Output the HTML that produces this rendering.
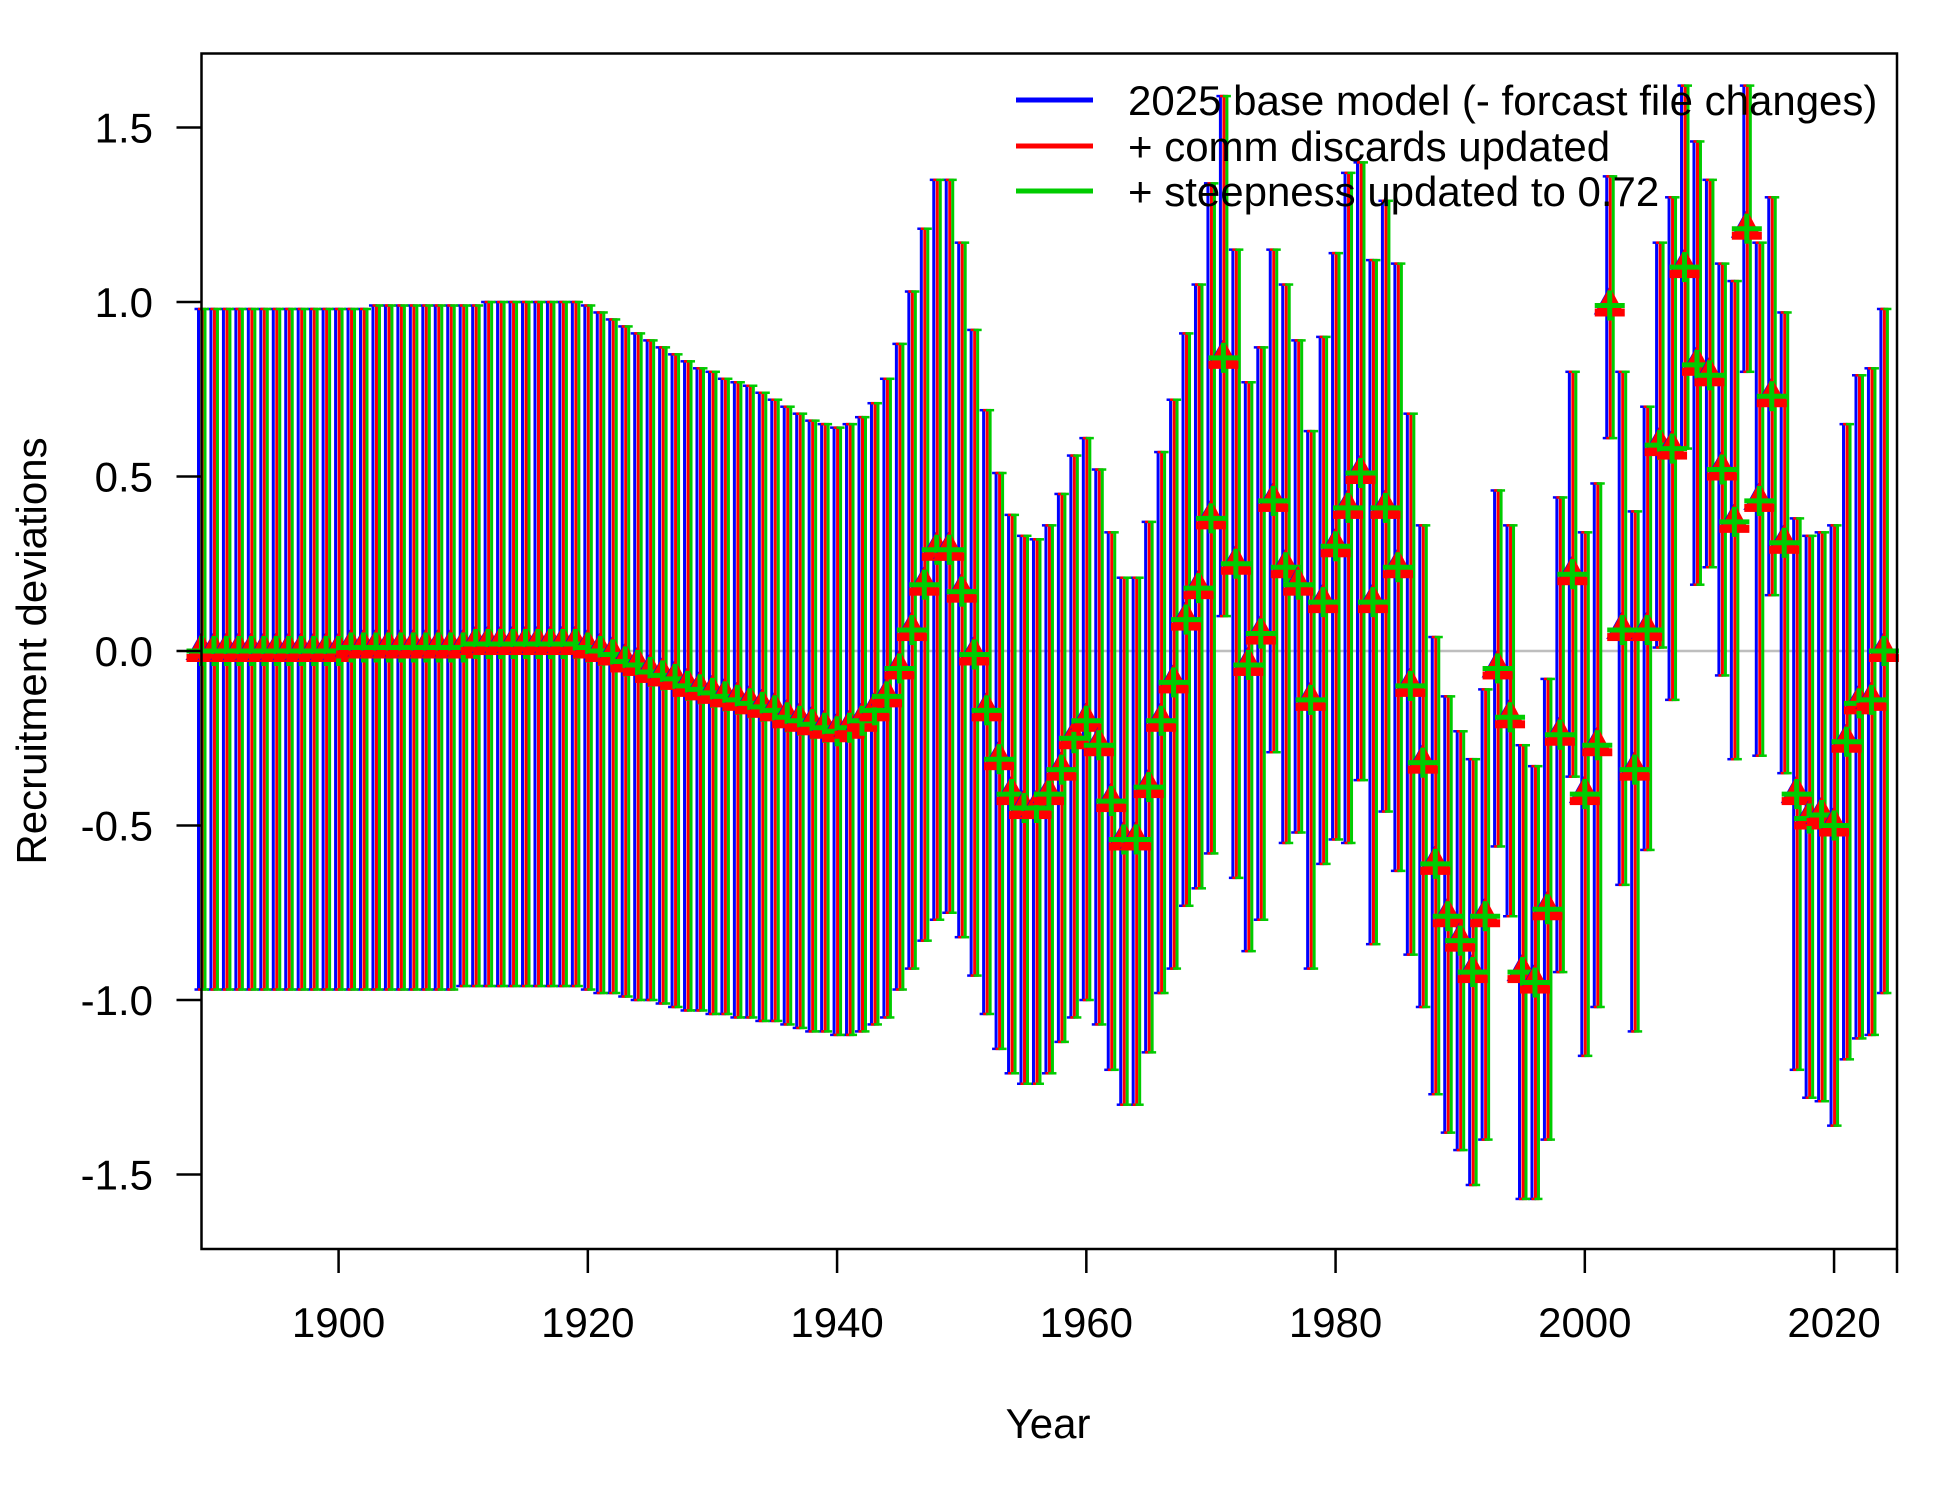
<!DOCTYPE html>
<html><head><meta charset="utf-8"><style>
html,body{margin:0;padding:0;background:#fff;}
svg{display:block;font-family:"Liberation Sans",Arial,sans-serif;}
</style></head><body>
<svg id="chart" width="1950" height="1500" viewBox="0 0 1950 1500" xmlns="http://www.w3.org/2000/svg">
<rect x="0" y="0" width="1950" height="1500" fill="#fff"/>
<g id="plot"></g>
<g id="axes"></g>
<g id="legend"></g>
</svg>
<script>
const firstYear = 1889;
const devs = [0,0,0,0,0,0,0,0,0,0,0,0,0.01,0.01,0.01,0.01,0.01,0.01,0.01,0.01,0.01,0.01,0.02,0.02,0.02,0.02,0.02,0.02,0.02,0.02,0.02,0.01,0,-0.01,-0.03,-0.04,-0.06,-0.07,-0.08,-0.1,-0.11,-0.12,-0.13,-0.14,-0.15,-0.16,-0.17,-0.19,-0.2,-0.21,-0.22,-0.23,-0.22,-0.2,-0.17,-0.13,
-0.05,0.06,0.19,0.29,0.29,0.17,-0.01,-0.17,-0.31,-0.41,-0.45,-0.45,-0.41,-0.34,-0.25,-0.2,-0.27,-0.43,-0.54,-0.54,-0.39,-0.2,-0.09,0.09,0.18,0.38,0.84,0.25,-0.04,0.05,0.43,0.24,0.19,-0.14,0.14,0.3,0.41,0.51,0.14,0.41,0.24,-0.1,-0.32,-0.61,-0.76,-0.83,-0.92,-0.76,-0.05,-0.19,-0.92,-0.95,-0.74,-0.24,0.22,-0.41,-0.27,0.99,0.06,-0.34,0.06,0.59,0.58,1.1,0.82,0.79,0.52,0.37,1.21,0.43,0.73,0.31,-0.41,-0.48,-0.47,-0.5,-0.26,-0.15,-0.14,0];
const upper = [0.98,0.98,0.98,0.98,0.98,0.98,0.98,0.98,0.98,0.98,0.98,0.98,0.98,0.98,0.99,0.99,0.99,0.99,0.99,0.99,0.99,0.99,0.99,1.0,1.0,1.0,1.0,1.0,1.0,1.0,1.0,0.99,0.97,0.95,0.93,0.91,0.89,0.87,0.85,0.83,0.81,0.8,0.78,0.77,0.76,0.74,0.72,0.7,0.68,0.66,0.65,0.64,0.65,0.67,0.71,0.78,
0.88,1.03,1.21,1.35,1.35,1.17,0.92,0.69,0.51,0.39,0.33,0.32,0.36,0.45,0.56,0.61,0.52,0.34,0.21,0.21,0.37,0.57,0.72,0.91,1.05,1.34,1.59,1.15,0.77,0.87,1.15,1.05,0.89,0.63,0.9,1.14,1.37,1.4,1.12,1.29,1.11,0.68,0.36,0.04,-0.13,-0.23,-0.31,-0.11,0.46,0.36,-0.27,-0.33,-0.08,0.44,0.8,0.34,0.48,1.36,0.8,0.4,0.7,1.17,1.3,1.62,1.46,1.35,1.11,1.06,1.62,1.17,1.3,0.97,0.38,0.33,0.34,0.36,0.65,0.79,0.81,0.98];
const lower = [-0.97,-0.97,-0.97,-0.97,-0.97,-0.97,-0.97,-0.97,-0.97,-0.97,-0.97,-0.97,-0.97,-0.97,-0.97,-0.97,-0.97,-0.97,-0.97,-0.97,-0.97,-0.96,-0.96,-0.96,-0.96,-0.96,-0.96,-0.96,-0.96,-0.96,-0.96,-0.97,-0.98,-0.98,-0.99,-1.0,-1.0,-1.01,-1.02,-1.03,-1.03,-1.04,-1.04,-1.05,-1.05,-1.06,-1.06,-1.07,-1.08,-1.09,-1.09,-1.1,-1.1,-1.09,-1.07,-1.05,
-0.97,-0.91,-0.83,-0.77,-0.75,-0.82,-0.93,-1.04,-1.14,-1.21,-1.24,-1.24,-1.21,-1.12,-1.05,-1.0,-1.07,-1.2,-1.3,-1.3,-1.15,-0.98,-0.91,-0.73,-0.68,-0.58,0.1,-0.65,-0.86,-0.77,-0.29,-0.55,-0.52,-0.91,-0.61,-0.54,-0.55,-0.37,-0.84,-0.46,-0.63,-0.87,-1.02,-1.27,-1.38,-1.43,-1.53,-1.4,-0.56,-0.76,-1.57,-1.57,-1.4,-0.92,-0.36,-1.16,-1.02,0.61,-0.67,-1.09,-0.57,0.01,-0.14,0.58,0.19,0.24,-0.07,-0.31,0.8,-0.3,0.16,-0.35,-1.2,-1.28,-1.29,-1.36,-1.17,-1.11,-1.1,-0.98];
const seriesNames = ["2025 base model (- forcast file changes)", "+ comm discards updated", "+ steepness updated to 0.72"];
const seriesColors = ["#0000ff", "#ff0000", "#00cc00"];
const xTicks = [1900, 1920, 1940, 1960, 1980, 2000, 2020];
const yTicks = [-1.5, -1.0, -0.5, 0.0, 0.5, 1.0, 1.5];
const yTickLabels = ["-1.5", "-1.0", "-0.5", "0.0", "0.5", "1.0", "1.5"];

const NS = "http://www.w3.org/2000/svg";
const L = 201.5, R = 1897, T = 53.5, B = 1249;
const xMin = 1889, xMax = 2025.05;
const yAt0 = 651, yPerUnit = 349;
function xs(v){ return L + (v - xMin) * (R - L) / (xMax - xMin); }
function ys(v){ return yAt0 - v * yPerUnit; }
function mk(tag, attrs, parent){ const e = document.createElementNS(NS, tag); for (const k in attrs) e.setAttribute(k, attrs[k]); parent.appendChild(e); return e; }

const plot = document.getElementById('plot');
const axes = document.getElementById('axes');
const legend = document.getElementById('legend');

const zl = mk('line', {x1:L, x2:R, y1:ys(0), y2:ys(0), stroke:'#bebebe', 'stroke-width':2.5}, plot);



const offs = [-3, 0.5, 3.5];
for (let s = 0; s < 3; s++) {
  const g = mk('g', {}, plot);
  
  
  for (let i = 0; i < devs.length; i++) {
    const x = xs(firstYear + i) + offs[s];
    const y1 = ys(upper[i]), y2 = ys(lower[i]);
    const ln = mk('line', {x1:x, x2:x, y1:y1, y2:y2, stroke:seriesColors[s], 'stroke-width':3}, g);
    
    
    mk('line', {x1:x-4, x2:x+4, y1:y1, y2:y1, stroke:seriesColors[s], 'stroke-width':2.5}, g);
    mk('line', {x1:x-4, x2:x+4, y1:y2, y2:y2, stroke:seriesColors[s], 'stroke-width':2.5}, g);
  }
}
const mg = mk('g', {}, plot);


for (let i = 0; i < devs.length; i++) {
  const x = xs(firstYear + i), y = ys(devs[i]);
  const tb = mk('polygon', {points:(x-16)+','+(y+9)+' '+(x-1)+','+(y-18)+' '+(x+14)+','+(y+9), fill:'#0000ff'}, mg);
  
  
  const tr = mk('polygon', {points:(x-15)+','+(y+9)+' '+x+','+(y-19)+' '+(x+15)+','+(y+9), fill:'#ff0000'}, mg);
  
  
  mk('rect', {x:x-15, y:y+3, width:30, height:8, fill:'#ff0000'}, mg);
  const p1 = mk('line', {x1:x-15, x2:x+15, y1:y, y2:y, stroke:'#00cc00', 'stroke-width':5}, mg);
  
  
  mk('line', {x1:x, x2:x, y1:y-15, y2:y+15, stroke:'#00cc00', 'stroke-width':5}, mg);
}

const box = mk('rect', {x:L, y:T, width:R-L, height:B-T, fill:'none', stroke:'#000', 'stroke-width':2.5}, axes);


mk('line', {x1:R, x2:R, y1:B, y2:B+24, stroke:'#000', 'stroke-width':2.5}, axes);
for (let i = 0; i < xTicks.length; i++) {
  const x = xs(xTicks[i]);
  const t = mk('line', {x1:x, x2:x, y1:B, y2:B+24, stroke:'#000', 'stroke-width':2.5}, axes);
  
  
  const tx = mk('text', {x:x, y:1337, 'font-size':42, 'text-anchor':'middle'}, axes);
  tx.textContent = xTicks[i];
  
  
}
for (let i = 0; i < yTicks.length; i++) {
  const y = ys(yTicks[i]);
  const t = mk('line', {x1:L-25, x2:L, y1:y, y2:y, stroke:'#000', 'stroke-width':2.5}, axes);
  
  
  const tx = mk('text', {x:153, y:y+15, 'font-size':42, 'text-anchor':'end'}, axes);
  tx.textContent = yTickLabels[i];
  
  
}
const xt = mk('text', {x:1048, y:1438, 'font-size':42, 'text-anchor':'middle'}, axes);
xt.textContent = 'Year';


const yt = mk('text', {x:0, y:0, 'font-size':42, 'text-anchor':'middle', transform:'translate(46,651) rotate(-90)'}, axes);
yt.textContent = 'Recruitment deviations';



const legY = [100, 146, 191];
for (let s = 0; s < 3; s++) {
  const g = mk('g', {}, legend);
  
  
  mk('line', {x1:1016, x2:1093, y1:legY[s], y2:legY[s], stroke:seriesColors[s], 'stroke-width':5}, g);
  const t = mk('text', {x:1128, y:legY[s]+15, 'font-size':42}, g);
  t.textContent = seriesNames[s];
}
</script>
</body></html>
